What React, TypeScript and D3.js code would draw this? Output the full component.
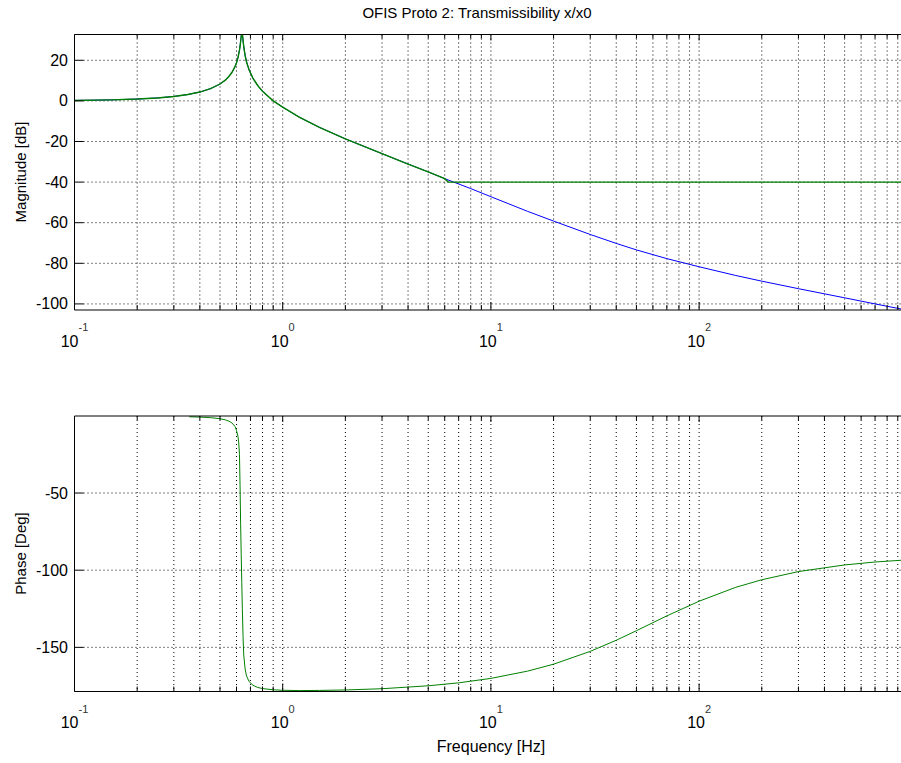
import React from "react";
import * as d3 from "d3";

const magFreq = [0.1, 0.15, 0.2, 0.25, 0.3, 0.35, 0.4, 0.45, 0.5, 0.53, 0.55, 0.57, 0.59, 0.6, 0.61, 0.62, 0.625, 0.63, 0.635, 0.637, 0.64, 0.645, 0.65, 0.66, 0.67, 0.69, 0.72, 0.76, 0.8, 0.9, 1, 1.2, 1.5, 2, 3, 4, 5, 6, 8, 10, 15, 20, 30, 40, 50, 70, 100, 150, 200, 300, 500, 700, 1000];
const magModel = [0.22, 0.5, 0.9, 1.45, 2.18, 3.12, 4.35, 6.0, 8.31, 10.22, 11.87, 13.97, 16.88, 18.83, 21.39, 25.01, 27.5, 30.6, 33.6, 34.0, 33.1, 29.8, 26.75, 22.34, 19.3, 15.16, 11.1, 7.46, 4.77, 0.03, -3.1, -8.0, -13.0, -18.7, -26.0, -31.1, -35.0, -38.3, -43.2, -47.2, -54.4, -59.2, -65.8, -70.2, -73.4, -77.7, -81.7, -86.0, -88.8, -92.5, -97.0, -100.0, -103.1];

const measFreq = [0.1, 0.15, 0.2, 0.25, 0.3, 0.35, 0.4, 0.45, 0.5, 0.53, 0.55, 0.57, 0.59, 0.6, 0.61, 0.62, 0.625, 0.63, 0.635, 0.637, 0.64, 0.645, 0.65, 0.66, 0.67, 0.69, 0.72, 0.76, 0.8, 0.9, 1, 1.2, 1.5, 2, 3, 4, 5, 6, 6.23, 1000];
const measMag = [0.22, 0.5, 0.9, 1.45, 2.18, 3.12, 4.35, 6.0, 8.31, 10.22, 11.87, 13.97, 16.88, 18.83, 21.39, 25.01, 27.5, 30.6, 33.6, 34.0, 33.1, 29.8, 26.75, 22.34, 19.3, 15.16, 11.1, 7.46, 4.77, 0.03, -3.1, -8.0, -13.0, -18.7, -26.0, -31.1, -35.0, -38.3, -40.0, -40.0];

const phaseFreq = [0.356, 0.4, 0.45, 0.5, 0.53, 0.55, 0.57, 0.59, 0.6, 0.61, 0.615, 0.62, 0.624, 0.628, 0.632, 0.636, 0.64, 0.645, 0.65, 0.66, 0.67, 0.69, 0.72, 0.76, 0.8, 0.9, 1, 1.2, 1.5, 2, 3, 5, 7, 10, 15, 20, 30, 40, 50, 70, 100, 150, 200, 300, 500, 700, 1000];
const phaseDeg = [-0.6, -0.8, -1.17, -1.85, -2.58, -3.34, -4.57, -6.85, -9.5, -13.5, -17.5, -25, -45, -70, -90, -108, -125, -143, -155, -164, -168.5, -172.2, -174.6, -176.0, -176.7, -177.5, -177.8, -178.0, -177.9, -177.6, -176.8, -174.9, -173.0, -170.1, -165.4, -160.9, -152.6, -145.4, -139.2, -129.6, -120.1, -111.1, -106.2, -100.9, -96.6, -94.7, -93.3];

const magTicks = [20, 0, -20, -40, -60, -80, -100];
const phaseTicks = [-50, -100, -150];
const decadeExps = ["-1", "0", "1", "2"];
const decades = [0.1, 1, 10, 100];

const W = 901;
const H = 763;
const LEFT = 74.5;
const FONT = "'Liberation Sans', Arial, Helvetica, sans-serif";

const x = d3.scaleLog().domain([0.1, 1000]).range([LEFT, 907.3]);
const yMag = d3.scaleLinear().domain([-103, 32.7]).range([310, 34.5]);
const yPh = d3.scaleLinear().domain([-178.6, -0.1]).range([691.5, 416]);

const gridFreqs: number[] = [];
for (let e = -1; e <= 2; e++) {
  for (let k = 1; k <= 9; k++) gridFreqs.push(k * Math.pow(10, e));
}
gridFreqs.push(1000);

function Panel(props: {
  id: string;
  y: d3.ScaleLinear<number, number>;
  ticks: number[];
  top: number;
  bottom: number;
  series: { f: number[]; v: number[]; color: string; w: number }[];
  topLineY: number;
  bottomLineY: number;
}) {
  const { id, y, ticks, top, bottom, series, topLineY, bottomLineY } = props;
  const clipId = "clip-" + id;
  return (
    <g>
      <defs>
        <clipPath id={clipId}>
          <rect x={LEFT} y={top} width={W - LEFT} height={bottom - top} />
        </clipPath>
      </defs>
      <g stroke="#000" strokeWidth={1} strokeDasharray="1,3" fill="none">
        {gridFreqs.map((f, i) => {
          const xx = x(f);
          if (xx <= LEFT + 1 || xx > W) return null;
          return <line key={"v" + i} x1={xx} x2={xx} y1={top} y2={bottom} />;
        })}
        {ticks.map((t, i) => (
          <line key={"h" + i} x1={LEFT + 9} x2={W} y1={y(t)} y2={y(t)} />
        ))}
      </g>
      <g clipPath={`url(#${clipId})`} fill="none">
        {series.map((s, i) => {
          const pts = s.f.map((f, j) => [f, s.v[j]] as [number, number]);
          const line = d3
            .line<[number, number]>()
            .x((d) => x(d[0]))
            .y((d) => y(d[1]));
          return <path key={i} d={line(pts) || ""} stroke={s.color} strokeWidth={s.w} />;
        })}
      </g>
      <g stroke="#000" strokeWidth={1} fill="none">
        <line x1={LEFT} x2={LEFT} y1={top} y2={bottom} />
        <line x1={LEFT} x2={W} y1={topLineY} y2={topLineY} />
        <line x1={LEFT} x2={W} y1={bottomLineY} y2={bottomLineY} />
        {ticks.map((t, i) => (
          <line key={"yt" + i} x1={LEFT} x2={LEFT + 9} y1={y(t)} y2={y(t)} />
        ))}
        {gridFreqs.map((f, i) => {
          const xx = x(f);
          if (xx < LEFT || xx > W) return null;
          const major = decades.includes(f) || f === 1000;
          return (
            <g key={"xt" + i}>
              <line x1={xx} x2={xx} y1={bottomLineY} y2={bottomLineY - (major ? 8 : 5)} />
              <line x1={xx} x2={xx} y1={topLineY} y2={topLineY + (major ? 6 : 4)} />
            </g>
          );
        })}
      </g>
      <g fontFamily={FONT} fontSize={16} fill="#000">
        {ticks.map((t, i) => (
          <text key={"yl" + i} x={68} y={y(t) + 5.5} textAnchor="end">
            {String(t)}
          </text>
        ))}
        {decades.map((f, i) => (
          <text key={"xl" + i} x={x(f)} y={bottomLineY + 36.5} textAnchor="middle">
            10
            <tspan dy={-15.5} fontSize={11} fill="#333">
              {decadeExps[i]}
            </tspan>
          </text>
        ))}
      </g>
    </g>
  );
}

export default function App() {
  return (
    <svg
      width={W}
      height={H}
      viewBox={`0 0 ${W} ${H}`}
      style={{ position: "absolute", left: 0, top: 0, background: "#fff" }}
    >
      <rect x={0} y={0} width={W} height={H} fill="#fff" />
      <text x={477} y={18} textAnchor="middle" fontFamily={FONT} fontSize={15} fill="#000">
        OFIS Proto 2: Transmissibility x/x0
      </text>
      <Panel
        id="mag"
        y={yMag}
        ticks={magTicks}
        top={34.5}
        bottom={310}
        topLineY={34.5}
        bottomLineY={310}
        series={[
          { f: magFreq, v: magModel, color: "#0000ff", w: 1 },
          { f: measFreq, v: measMag, color: "#008000", w: 1.4 },
        ]}
      />
      <Panel
        id="ph"
        y={yPh}
        ticks={phaseTicks}
        top={416}
        bottom={691.5}
        topLineY={416}
        bottomLineY={691.5}
        series={[{ f: phaseFreq, v: phaseDeg, color: "#008000", w: 1 }]}
      />
      <text
        transform={`translate(25.5, 172) rotate(-90)`}
        textAnchor="middle"
        fontFamily={FONT}
        fontSize={15}
        fill="#000"
      >
        Magnitude [dB]
      </text>
      <text
        transform={`translate(25.5, 553.5) rotate(-90)`}
        textAnchor="middle"
        fontFamily={FONT}
        fontSize={15}
        fill="#000"
      >
        Phase [Deg]
      </text>
      <text x={491} y={752} textAnchor="middle" fontFamily={FONT} fontSize={16} fill="#000">
        Frequency [Hz]
      </text>
    </svg>
  );
}
